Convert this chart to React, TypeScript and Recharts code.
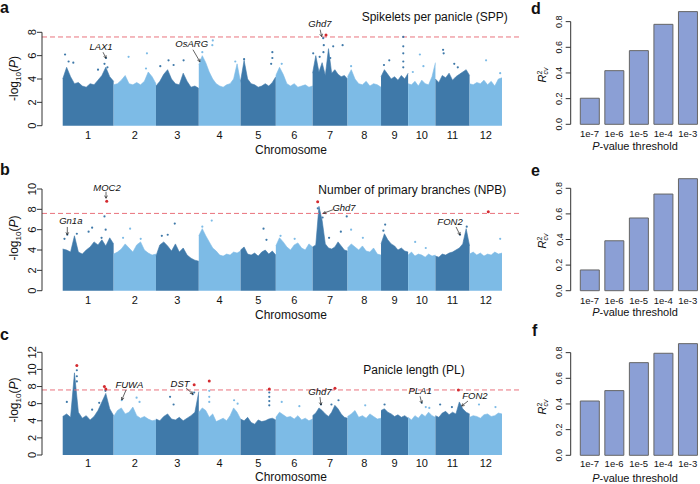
import React from "react";
import { Area, Bar, BarChart, ComposedChart, ReferenceLine, Scatter, XAxis, YAxis } from "recharts";

const FONT = '"Liberation Sans", Arial, Helvetica, sans-serif';
const DARK = "#3f79a9";
const LIGHT = "#7dbbe6";
const HIT = "#d42a2f";
const CUTOFF = "#e9737d";
const BAR_FILL = "#8b9fd5";

// rice chromosomes (Mb)
const chrNames = ["1", "2", "3", "4", "5", "6", "7", "8", "9", "10", "11", "12"];
const chrLengths = [43.27, 35.94, 36.41, 35.5, 29.96, 31.25, 29.7, 28.44, 23.01, 23.21, 29.02, 27.53];
const chrStart = chrLengths.map((_, i) => chrLengths.slice(0, i).reduce((a, b) => a + b, 0));
const chrMid = chrLengths.map((len, i) => chrStart[i] + len / 2);
const threshold = 7.6;

// upper edge of the dense point cloud, read along each chromosome
const sppBulk = [
  [4.0, 5.0, 4.2, 3.6, 3.7, 3.4, 3.3, 3.6, 3.5, 3.9, 4.3, 5.0, 4.2, 3.8],
  [3.5, 3.6, 3.9, 4.3, 3.6, 3.5, 3.7, 3.5, 3.8, 4.6, 4.2, 3.6],
  [3.4, 3.8, 4.4, 4.8, 4.0, 3.6, 3.5, 4.5, 3.8, 3.3, 3.4, 3.2],
  [5.2, 6.0, 5.4, 4.6, 4.0, 3.6, 3.4, 3.3, 3.5, 3.6, 4.0, 5.3, 3.7],
  [3.8, 5.6, 4.0, 3.6, 3.5, 3.3, 3.4, 3.6, 3.4, 3.7, 4.2],
  [4.3, 5.0, 4.4, 3.6, 3.4, 3.6, 3.3, 3.4, 3.5, 3.3, 3.4],
  [4.5, 6.0, 4.6, 5.4, 4.3, 6.6, 4.5, 4.8, 4.4, 4.2, 4.3, 4.0],
  [4.2, 4.8, 4.0, 3.6, 3.5, 3.8, 3.4, 3.6, 3.5, 3.3],
  [4.2, 4.8, 4.4, 4.0, 4.2, 3.9, 4.3, 4.0, 4.5],
  [3.6, 3.5, 3.8, 3.4, 3.9, 3.6, 3.5, 4.2, 5.4],
  [4.0, 3.7, 4.3, 4.1, 4.5, 3.9, 4.2, 4.4, 4.6, 4.8, 4.3],
  [3.6, 3.5, 3.7, 3.6, 3.9, 3.5, 3.8, 3.4, 4.0, 4.1],
];
const npbBulk = [
  [4.1, 4.0, 3.8, 5.4, 3.8, 3.6, 4.0, 4.3, 4.8, 4.5, 5.0, 4.4, 5.2, 4.6],
  [3.6, 3.8, 4.1, 4.6, 4.2, 3.8, 4.5, 4.8, 4.0, 3.7, 3.5, 3.6],
  [3.4, 4.5, 4.8, 4.4, 3.9, 4.6, 3.8, 4.2, 3.5, 3.2, 3.0, 2.9],
  [5.4, 6.1, 5.4, 4.8, 4.2, 3.9, 3.5, 3.4, 3.6, 3.5, 3.8, 3.7, 3.9],
  [4.0, 4.3, 3.6, 3.5, 3.7, 3.4, 3.8, 4.0, 3.6, 3.9, 3.5],
  [4.4, 5.2, 4.8, 4.3, 4.0, 4.5, 4.7, 4.2, 4.0, 4.6, 4.3],
  [4.3, 4.5, 8.3, 6.9, 4.6, 4.2, 4.1, 4.3, 4.8, 4.4, 4.0, 3.9],
  [4.2, 4.6, 4.3, 4.0, 4.4, 3.9, 3.8, 4.2, 3.6, 3.5],
  [4.6, 5.6, 5.0, 4.6, 4.4, 4.0, 4.2, 3.9, 3.8],
  [3.5, 3.8, 3.4, 3.6, 3.5, 3.3, 3.6, 3.4, 3.5],
  [3.4, 3.3, 3.6, 3.5, 3.7, 3.8, 4.0, 4.2, 4.6, 6.1, 4.4],
  [3.6, 3.8, 3.5, 3.7, 3.4, 3.6, 3.5, 3.8, 3.6, 3.7],
];
const plBulk = [
  [4.5, 4.8, 4.4, 9.6, 5.0, 4.3, 4.6, 4.1, 4.5, 5.2, 6.2, 7.2, 5.4, 4.6],
  [4.5, 5.2, 5.5, 4.8, 5.0, 5.6, 4.6, 4.3, 4.5, 4.2, 4.0, 4.1],
  [4.2, 4.0, 4.5, 4.8, 4.2, 4.1, 4.4, 4.0, 4.3, 4.6, 5.0, 7.4],
  [5.0, 5.5, 5.2, 4.4, 4.8, 3.9, 4.1, 4.3, 4.0, 4.6, 5.5, 5.0, 4.2],
  [4.2, 4.0, 4.4, 3.8, 3.6, 4.1, 3.9, 4.0, 4.2, 4.3, 4.1],
  [4.4, 5.0, 4.7, 4.4, 4.5, 4.2, 4.6, 4.1, 4.3, 4.0, 4.2],
  [4.6, 4.9, 5.5, 5.2, 4.8, 4.5, 5.0, 5.8, 5.4, 4.8, 4.4, 4.3],
  [4.5, 4.8, 5.2, 4.4, 4.6, 4.3, 4.8, 4.5, 4.2, 4.3],
  [5.2, 5.4, 5.0, 4.8, 4.5, 4.7, 4.4, 4.6, 4.3],
  [4.4, 4.1, 4.6, 4.3, 4.8, 4.5, 5.0, 4.6, 4.4],
  [4.6, 4.4, 4.9, 5.1, 4.7, 5.0, 4.8, 6.2, 5.4, 5.0, 4.8],
  [4.4, 4.6, 4.5, 4.3, 4.7, 4.8, 4.5, 4.6, 4.9, 4.8],
];

// isolated SNPs above the cloud: [chromosome, Mb, -log10 P]
const sppDots = [
  [1, 2, 6.1], [1, 5, 5.5], [1, 9, 5.4], [1, 30, 4.8], [1, 35.5, 5.3], [1, 36.8, 5.8], [1, 38, 5.0],
  [2, 12.7, 5.9], [2, 28.3, 6.2], [2, 27.5, 4.9],
  [3, 3.7, 5.1], [3, 10.7, 5.6], [3, 15, 5.2], [3, 23.5, 5.6],
  [4, 11.9, 7.3], [4, 11.5, 6.9], [4, 3, 6.3], [4, 31, 5.5],
  [5, 3, 5.7], [5, 27, 6.3], [5, 27, 5.8], [5, 26, 5.3],
  [6, 5, 5.3],
  [7, 0.5, 6.2], [7, 6, 5.9], [7, 9, 7.5], [7, 9.5, 6.9], [7, 9.2, 6.3], [7, 15, 5.8], [7, 17.5, 6.8], [7, 25.5, 6.9],
  [8, 3, 5.1],
  [9, 2.5, 5.2], [9, 7, 5.6], [9, 18.9, 7.6], [9, 18.9, 6.8], [9, 18.9, 6.2], [9, 18.9, 5.5], [9, 18.9, 5.0],
  [10, 10, 6.1], [10, 13, 5.1], [10, 4, 4.6],
  [11, 6.5, 6.5], [11, 7, 6.2], [11, 16, 5.3], [11, 19, 5.0],
  [12, 14, 5.6], [12, 26, 4.5],
];
const npbDots = [
  [1, 1.5, 5.1], [1, 3.9, 5.5], [1, 12, 5.6], [1, 22, 5.8], [1, 25, 6.2], [1, 33, 5.2], [1, 35.5, 7.3], [1, 36.5, 6.0],
  [2, 8, 5.2], [2, 14, 6.1], [2, 23, 5.1],
  [3, 5, 5.4], [3, 10, 5.5], [3, 16, 6.6],
  [4, 3, 6.3], [4, 11, 6.9],
  [5, 19.5, 6.1], [5, 22, 5.0],
  [6, 4, 5.4], [6, 16, 5.1],
  [7, 4.4, 8.1], [7, 8.5, 7.2], [7, 14, 5.2], [7, 24, 5.8], [7, 29, 7.3],
  [8, 3, 6.0], [8, 13, 5.2],
  [9, 2, 5.9], [9, 3.5, 6.5],
  [10, 6, 4.8], [10, 15, 4.2],
  [11, 20.9, 5.5], [11, 25, 4.9], [11, 26.6, 6.3],
  [12, 26, 5.1],
];
const plDots = [
  [1, 3.5, 6.2], [1, 12, 9.9], [1, 12, 9.2], [1, 12, 8.6], [1, 25, 5.3], [1, 31, 6.1], [1, 36.3, 7.5],
  [2, 6.9, 6.4], [2, 19.5, 6.7], [2, 22, 6.2],
  [3, 12, 6.8], [3, 15, 5.9], [3, 31.3, 7.1], [3, 32.5, 7.3],
  [4, 8.9, 7.5], [4, 8.9, 6.8], [4, 8.9, 6.2], [4, 30, 6.4], [4, 33, 6.0],
  [5, 24.4, 7.3], [5, 24.4, 6.8], [5, 24.4, 6.3], [5, 24.4, 5.8],
  [6, 5, 6.2], [6, 20, 5.7],
  [7, 7.1, 5.9], [7, 16, 5.9], [7, 22, 6.4],
  [8, 15, 5.8],
  [9, 3, 5.9],
  [10, 11.6, 6.1], [10, 15, 5.6], [10, 18, 5.5],
  [11, 4, 5.9], [11, 14, 5.6],
  [12, 8, 5.9], [12, 22, 5.6],
];

// genome-wide significant SNPs
const sppHits = [[7, 11.4, 7.77]];
const npbHits = [[1, 37.4, 8.8], [7, 4.3, 8.75], [12, 15.9, 7.77]];
const plHits = [
  [1, 12.0, 10.45], [1, 35.4, 8.0], [1, 36.6, 7.7], [3, 32.5, 8.2], [4, 8.9, 8.65],
  [5, 24.4, 7.7], [7, 19.0, 7.8], [11, 19.5, 7.6],
];

// annotated genes: [name, chromosome, Mb, -log10 P]
const sppGenes = [["LAX1", 1, 36.8, 5.78], ["OsARG", 4, 1.0, 5.48], ["Ghd7", 7, 7.7, 7.63]];
const npbGenes = [["Gn1a", 1, 3.9, 5.48], ["MOC2", 1, 36.8, 9.09], ["Ghd7", 7, 9.1, 7.61], ["FON2", 11, 20.9, 5.48]];
const plGenes = [["FUWA", 2, 6.9, 6.43], ["DST", 3, 31.3, 7.13], ["Ghd7", 7, 7.1, 5.84], ["PLA1", 10, 11.6, 6.04], ["FON2", 11, 22.3, 5.72]];

// label / arrow-tail offsets in pixels, relative to the arrow tip
const geneLayout: Record<string, { label: [number, number]; tail: [number, number] }> = {
  "a-LAX1": { label: [-5, -11.6], tail: [-3, -6] },
  "a-OsARG": { label: [-8.3, -17.7], tail: [-7, -12] },
  "a-Ghd7": { label: [-1.7, -12.7], tail: [-1.5, -7] },
  "b-Gn1a": { label: [3.5, -14], tail: [0, -8] },
  "b-MOC2": { label: [1, -11], tail: [0, -6.5] },
  "b-Ghd7": { label: [20.7, -5.6], tail: [9.7, -3.6] },
  "b-FON2": { label: [-10, -13.3], tail: [-4, -8] },
  "c-FUWA": { label: [7.6, -15], tail: [4.3, -10] },
  "c-DST": { label: [-12.7, -10.7], tail: [-6.7, -6] },
  "c-Ghd7": { label: [-1, -13.3], tail: [-1, -8] },
  "c-PLA1": { label: [-1.7, -12.6], tail: [-1.7, -7] },
  "c-FON2": { label: [13.3, -10], tail: [6.3, -5] },
};

// cross-validated R2 per P-value cut
const thresholds = ["1e-7", "1e-6", "1e-5", "1e-4", "1e-3"];
const sppR2 = [0.203, 0.418, 0.574, 0.779, 0.878];
const npbR2 = [0.162, 0.39, 0.568, 0.755, 0.875];
const plR2 = [0.423, 0.504, 0.722, 0.795, 0.87];

const rotTick = (size: number, shift: number, digits: number) => (p: any) => {
  const x = p.x + shift;
  return (
    <text x={x} y={p.y} transform={`rotate(-90 ${x} ${p.y})`} textAnchor="middle" fontSize={size} fill="#111" style={{ fontFamily: FONT }}>
      {Number(p.payload.value).toFixed(digits)}
    </text>
  );
};

const dot = (color: string, r: number) => (p: any) => <circle cx={p.cx} cy={p.cy} r={r} fill={color} />;

const GeneMark = (p: any) => {
  const g = geneLayout[p.payload.key];
  const { cx, cy } = p;
  const tx = cx + g.tail[0];
  const ty = cy + g.tail[1];
  const ang = Math.atan2(ty - cy, tx - cx);
  const h = 3;
  const a1 = ang - 0.5;
  const a2 = ang + 0.5;
  return (
    <g>
      <line x1={tx} y1={ty} x2={cx} y2={cy} stroke="#222" strokeWidth={0.7} />
      <polyline
        points={`${cx + h * Math.cos(a1)},${cy + h * Math.sin(a1)} ${cx},${cy} ${cx + h * Math.cos(a2)},${cy + h * Math.sin(a2)}`}
        fill="none"
        stroke="#222"
        strokeWidth={0.7}
      />
      <text x={cx + g.label[0]} y={cy + g.label[1] + 3.4} textAnchor="middle" fontStyle="italic" fontSize={9.5} fill="#111" style={{ fontFamily: FONT }}>
        {p.payload.name}
      </text>
    </g>
  );
};

type Pt = number[];

function Manhattan(props: {
  panel: string; top: number; height: number; plotTop: number; axisHeight: number; tickGap: number;
  yMax: number; bulk: number[][]; dots: Pt[]; hits: Pt[]; genes: any[];
}) {
  const { panel, top, height, plotTop, axisHeight, tickGap, yMax, bulk, dots, hits, genes } = props;
  const rows = bulk.flatMap((vals, c) =>
    vals.map((v, i) => ({ x: chrStart[c] + (i * chrLengths[c]) / (vals.length - 1), chr: c, v }))
  );
  const toPts = (list: Pt[]) => list.map(([c, mb, v]) => ({ x: chrStart[c - 1] + mb, y: v, chr: c }));
  const dotPts = toPts(dots);
  const genePts = genes.map(([name, c, mb, v]) => ({ x: chrStart[c - 1] + mb, y: v, name, key: `${panel}-${name}` }));
  const yTicks = Array.from({ length: yMax / 2 + 1 }, (_, i) => i * 2);
  return (
    <div style={{ position: "absolute", left: 0, top, width: 530, height }}>
      <ComposedChart width={530} height={height} data={rows} margin={{ top: plotTop, right: 11, bottom: 0, left: 0 }}>
        <XAxis
          type="number"
          dataKey="x"
          domain={[-17.6, 387.7]}
          ticks={chrMid}
          interval={0}
          tickFormatter={(_: number, i: number) => chrNames[i]}
          axisLine={false}
          tickLine={false}
          tickSize={0}
          tickMargin={tickGap}
          height={axisHeight}
          tick={{ fontSize: 11, fill: "#111" }}
        />
        <YAxis
          type="number"
          domain={[0, yMax]}
          ticks={yTicks}
          interval={0}
          width={42}
          tickSize={5}
          axisLine={{ stroke: "#333" }}
          tickLine={{ stroke: "#333" }}
          tick={rotTick(11, 0.6, 0)}
        />
        {chrLengths.map((_, c) => (
          <Area
            key={c}
            type="linear"
            dataKey={(r: any) => (r.chr === c ? r.v : null)}
            stroke={c % 2 === 0 ? DARK : LIGHT}
            strokeWidth={0.6}
            fill={c % 2 === 0 ? DARK : LIGHT}
            fillOpacity={1}
            dot={false}
            activeDot={false}
            isAnimationActive={false}
          />
        ))}
        <Scatter data={dotPts.filter((d) => d.chr % 2 === 1)} dataKey="y" shape={dot(DARK, 1.1)} isAnimationActive={false} />
        <Scatter data={dotPts.filter((d) => d.chr % 2 === 0)} dataKey="y" shape={dot(LIGHT, 1.1)} isAnimationActive={false} />
        <ReferenceLine y={threshold} stroke={CUTOFF} strokeWidth={1} strokeDasharray="5 3" />
        <Scatter data={toPts(hits)} dataKey="y" shape={dot(HIT, 1.5)} isAnimationActive={false} />
        <Scatter data={genePts} dataKey="y" shape={GeneMark} isAnimationActive={false} />
      </ComposedChart>
    </div>
  );
}

function R2Bars(props: { top: number; height: number; plotTop: number; axisHeight: number; tickGap: number; values: number[] }) {
  const { top, height, plotTop, axisHeight, tickGap, values } = props;
  const data = thresholds.map((t, i) => ({ t, r2: values[i] }));
  return (
    <div style={{ position: "absolute", left: 530, top, width: 170, height }}>
      <BarChart width={170} height={height} data={data} margin={{ top: plotTop, right: 0, bottom: 0, left: 0 }}>
        <XAxis
          dataKey="t"
          interval={0}
          axisLine={false}
          tickLine={false}
          tickSize={0}
          tickMargin={tickGap}
          height={axisHeight}
          padding={{ left: 6.6, right: 0 }}
          tick={{ fontSize: 9.5, fill: "#111" }}
        />
        <XAxis xAxisId="edge" type="number" domain={[0, 1]} hide />
        <YAxis
          type="number"
          domain={[0, 0.9]}
          ticks={[0, 0.2, 0.4, 0.6, 0.8]}
          interval={0}
          width={40.7}
          tickSize={5}
          axisLine={false}
          tickLine={{ stroke: "#333" }}
          tick={rotTick(9, -1.2, 1)}
        />
        <ReferenceLine xAxisId="edge" segment={[{ x: 0, y: 0 }, { x: 0, y: 0.8 }]} stroke="#333" ifOverflow="visible" />
        <Bar dataKey="r2" fill={BAR_FILL} stroke="#666" strokeWidth={1} barSize={19} isAnimationActive={false} />
      </BarChart>
    </div>
  );
}

const LogLabel = ({ x, y }: { x: number; y: number }) => (
  <text transform={`translate(${x} ${y}) rotate(-90)`} textAnchor="middle" fontSize={12} fill="#111" style={{ fontFamily: FONT }}>
    -log<tspan fontSize={8} dy={3}>10</tspan>
    <tspan dy={-3}>(</tspan>
    <tspan fontStyle="italic">P</tspan>)
  </text>
);

const R2Label = ({ x, y }: { x: number; y: number }) => (
  <text transform={`translate(${x} ${y}) rotate(-90)`} textAnchor="middle" fontSize={11} fill="#111" style={{ fontFamily: FONT }}>
    <tspan fontStyle="italic">R</tspan>
    <tspan fontSize={7} dy={-4}>2</tspan>
    <tspan fontSize={7} dy={6} dx={-4} fontStyle="italic">cv</tspan>
  </text>
);

const PLabel = ({ y }: { y: number }) => (
  <text x={635} y={y} textAnchor="middle" fontSize={11} fill="#111" style={{ fontFamily: FONT }}>
    <tspan fontStyle="italic">P</tspan>-value threshold
  </text>
);

export default function App() {
  return (
    <div style={{ position: "absolute", left: 0, top: 0, width: 700, height: 484, overflow: "hidden", background: "#fff", fontFamily: FONT }}>
      <Manhattan panel="a" top={0} height={160} plotTop={32.3} axisHeight={34.3} tickGap={5.4} yMax={8}
        bulk={sppBulk} dots={sppDots} hits={sppHits} genes={sppGenes} />
      <Manhattan panel="b" top={160} height={160} plotTop={29} axisHeight={29.3} tickGap={5.7} yMax={10}
        bulk={npbBulk} dots={npbDots} hits={npbHits} genes={npbGenes} />
      <Manhattan panel="c" top={320} height={164} plotTop={32.3} axisHeight={29} tickGap={4.4} yMax={12}
        bulk={plBulk} dots={plDots} hits={plHits} genes={plGenes} />
      <R2Bars top={0} height={160} plotTop={8.8} axisHeight={35.7} tickGap={6.3} values={sppR2} />
      <R2Bars top={160} height={160} plotTop={15.5} axisHeight={29.3} tickGap={6.6} values={npbR2} />
      <R2Bars top={320} height={164} plotTop={19.8} axisHeight={28.7} tickGap={5.3} values={plR2} />
      <svg width={700} height={484} style={{ position: "absolute", left: 0, top: 0, pointerEvents: "none", fontFamily: FONT }}>
        <g fontSize={16} fontWeight="bold" fill="#111">
          <text x={0} y={13}>a</text>
          <text x={0} y={175}>b</text>
          <text x={0} y={340}>c</text>
          <text x={531} y={13.5}>d</text>
          <text x={531} y={176}>e</text>
          <text x={532} y={336}>f</text>
        </g>
        <g fontSize={12} fill="#111">
          <text x={361.7} y={21}>Spikelets per panicle (SPP)</text>
          <text x={318.3} y={194.3}>Number of primary branches (NPB)</text>
          <text x={363.3} y={374.3}>Panicle length (PL)</text>
          <text x={291} y={154} textAnchor="middle">Chromosome</text>
          <text x={291} y={319} textAnchor="middle">Chromosome</text>
          <text x={291} y={481} textAnchor="middle">Chromosome</text>
        </g>
        <LogLabel x={18} y={78.5} />
        <LogLabel x={18} y={238} />
        <LogLabel x={18} y={400} />
        <R2Label x={545.5} y={75} />
        <R2Label x={545.5} y={241} />
        <R2Label x={545.5} y={407} />
        <PLabel y={149.7} />
        <PLabel y={316} />
        <PLabel y={481.5} />
      </svg>
    </div>
  );
}
